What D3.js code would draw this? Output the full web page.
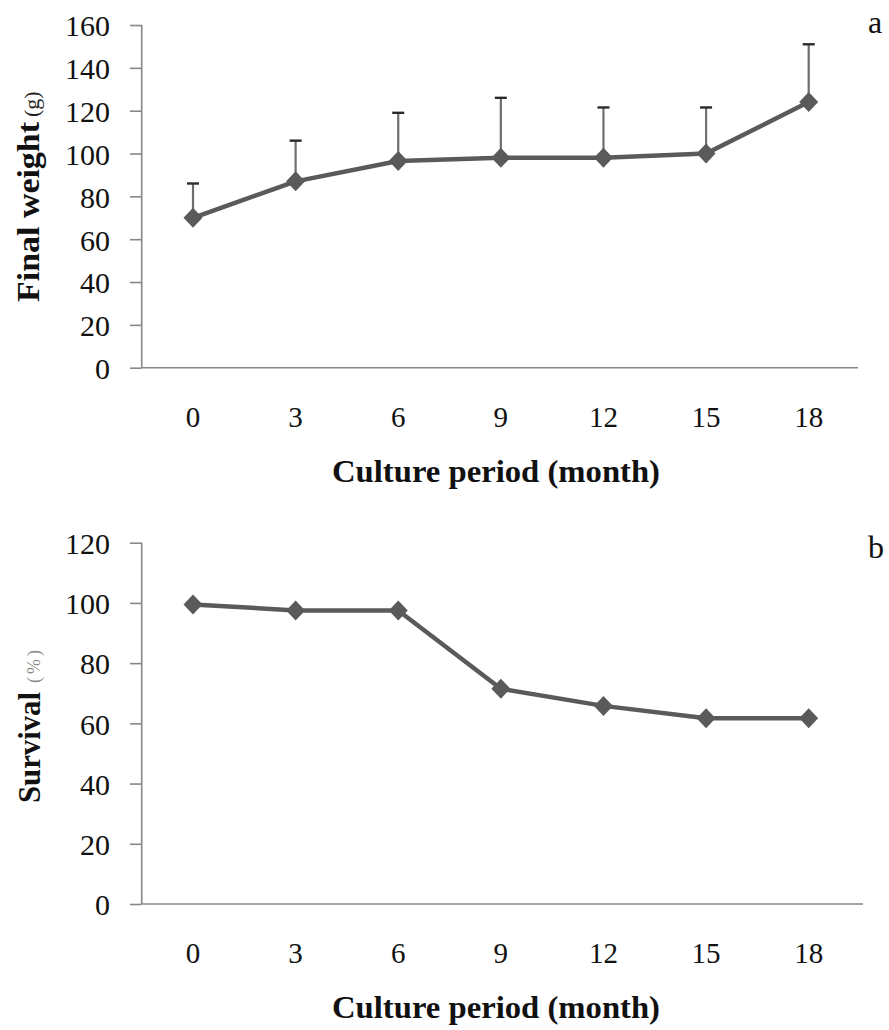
<!DOCTYPE html>
<html>
<head>
<meta charset="utf-8">
<script src="https://cdn.jsdelivr.net/npm/d3@7"></script>
<style>
  html, body { margin: 0; padding: 0; background: #fff; }
  svg { display: block; }
  text { font-family: "Liberation Serif", "Times New Roman", serif; }
</style>
</head>
<body>
<svg id="chart" width="889" height="1030"></svg>
<script>
// Culture period categories (months)
const months = ["0", "3", "6", "9", "12", "15", "18"];

// Panel a: final weight (g), mean and upper error
const weightMean = [70, 87, 96.5, 98, 98, 100, 124];
const weightErr  = [16, 19, 22.5, 28, 23.5, 21.5, 27];
const weightTicks = [0, 20, 40, 60, 80, 100, 120, 140, 160];

// Panel b: survival (%)
const survival = [99.5, 97.5, 97.5, 71.5, 65.8, 61.7, 61.7];
const survivalTicks = [0, 20, 40, 60, 80, 100, 120];

const svg = d3.select("#chart");

const AXIS = "#878787";
const SERIES = "#5a5a5a";

const x = d3.scaleBand().domain(months).range([141.7, 860]).paddingInner(0).paddingOuter(0);
const cx = d => x(d) + x.bandwidth() / 2;

function panel(opts) {
  const g = svg.append("g");
  const y = d3.scaleLinear().domain([0, opts.max]).range([opts.bottom, opts.top]);

  // y axis with outward ticks
  const yAxis = d3.axisLeft(y).tickValues(opts.ticks).tickSize(11.7).tickPadding(20);
  const ya = g.append("g").attr("transform", `translate(${x.range()[0]},0)`).call(yAxis);
  ya.select(".domain").attr("stroke", AXIS).attr("stroke-width", 1.6)
    .attr("d", `M0,${opts.bottom}V${opts.top}`);
  ya.selectAll(".tick line").attr("stroke", AXIS).attr("stroke-width", 1.6);
  ya.selectAll(".tick text")
    .attr("fill", "#111").attr("font-size", 30)
    .attr("font-family", "Liberation Serif, serif")
    .attr("dy", "0.36em");

  // x axis line
  const xAxis = d3.axisBottom(x).tickSize(0).tickPadding(0);
  const xa = g.append("g").attr("transform", `translate(0,${opts.bottom})`).call(xAxis);
  xa.select(".domain").attr("stroke", AXIS).attr("stroke-width", 1.6)
    .attr("d", `M${x.range()[0]},0H${opts.axisEnd}`);
  xa.selectAll(".tick text")
    .attr("fill", "#111").attr("font-size", 29)
    .attr("font-family", "Liberation Serif, serif")
    .attr("y", 49).attr("dy", "0.35em")
    .attr("transform", null);

  // x axis title
  g.append("text")
    .attr("x", 496).attr("y", opts.bottom + 114)
    .attr("text-anchor", "middle")
    .attr("font-size", 32).attr("font-weight", "bold").attr("fill", "#111")
    .attr("textLength", 328).attr("lengthAdjust", "spacingAndGlyphs")
    .text("Culture period (month)");

  // y axis title (rotated)
  const yt = g.append("g").attr("transform", `translate(${opts.titleX},${opts.titleStart}) rotate(-90)`);
  yt.append("text")
    .attr("x", 0).attr("y", 0)
    .attr("font-size", 31).attr("font-weight", "bold").attr("fill", "#111")
    .attr("textLength", opts.titleLen).attr("lengthAdjust", "spacingAndGlyphs")
    .text(opts.title);
  yt.append("text")
    .attr("x", opts.unitOffset).attr("y", 0)
    .attr("font-size", opts.unitSize).attr("fill", opts.unitColor)
    .attr("letter-spacing", opts.unitSpacing)
    .text(opts.unit);

  // panel letter
  g.append("text")
    .attr("x", 868).attr("y", opts.letterY)
    .attr("font-size", 32).attr("fill", "#111")
    .text(opts.letter);

  // error bars (upper only)
  if (opts.err) {
    const eb = g.append("g");
    months.forEach((m, i) => {
      const top = y(opts.values[i] + opts.err[i]);
      eb.append("line")
        .attr("x1", cx(m)).attr("x2", cx(m))
        .attr("y1", y(opts.values[i])).attr("y2", top)
        .attr("stroke", "#6e6e6e").attr("stroke-width", 2.2);
      eb.append("line")
        .attr("x1", cx(m) - 6).attr("x2", cx(m) + 6)
        .attr("y1", top).attr("y2", top)
        .attr("stroke", "#2a2a2a").attr("stroke-width", 2.4);
    });
  }

  // series line
  const line = d3.line().x((d, i) => cx(months[i])).y(d => y(d));
  g.append("path").datum(opts.values)
    .attr("d", line)
    .attr("fill", "none").attr("stroke", SERIES)
    .attr("stroke-width", 4.5).attr("stroke-linejoin", "round");

  // diamond markers
  const diamond = "M0,-10L9.5,0L0,10L-9.5,0Z";
  g.selectAll("path.marker").data(opts.values).enter().append("path")
    .attr("class", "marker")
    .attr("d", diamond)
    .attr("transform", (d, i) => `translate(${cx(months[i])},${y(d)})`)
    .attr("fill", SERIES);
}

panel({
  values: weightMean, err: weightErr, ticks: weightTicks,
  max: 160, top: 25, bottom: 367.7, axisEnd: 858,
  title: "Final weight", titleX: 38.5, titleStart: 302, titleLen: 180,
  unit: "(g)", unitOffset: 185, unitSize: 22, unitColor: "#222", unitSpacing: 0,
  letter: "a", letterY: 33
});

panel({
  values: survival, err: null, ticks: survivalTicks,
  max: 120, top: 542.7, bottom: 904, axisEnd: 863,
  title: "Survival", titleX: 40, titleStart: 803, titleLen: 111,
  unit: "(%)", unitOffset: 120, unitSize: 18, unitColor: "#8a8a8a", unitSpacing: 3,
  letter: "b", letterY: 558
});
</script>
</body>
</html>
